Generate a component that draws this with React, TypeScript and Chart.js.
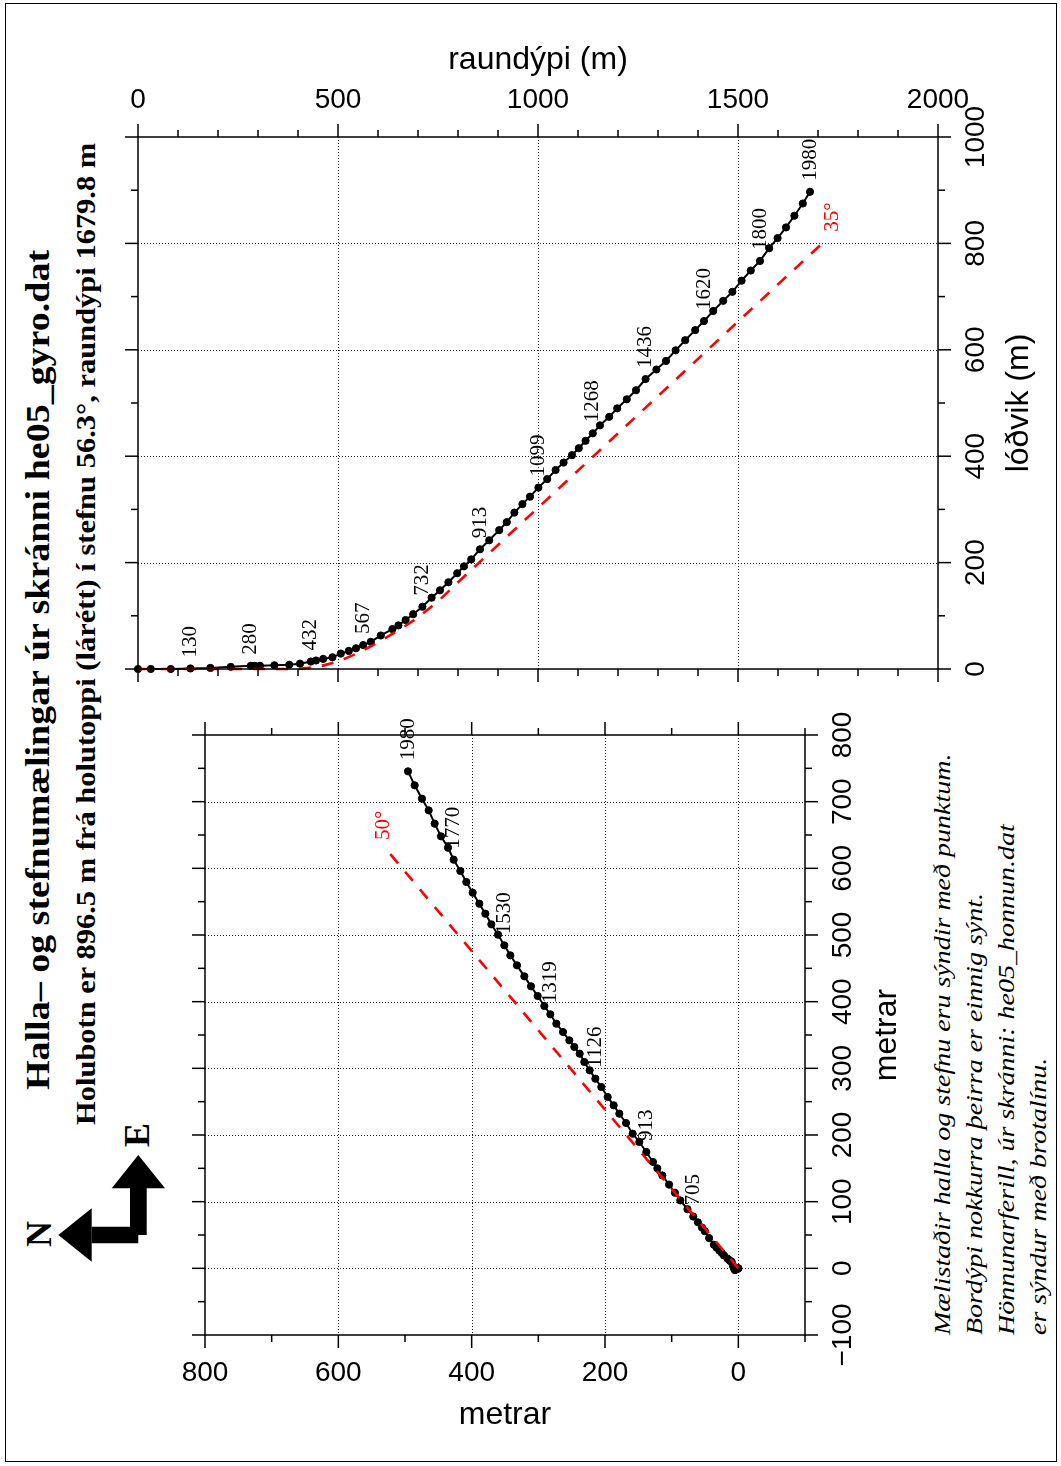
import React, { useEffect, useRef } from "react";
import { Chart, registerables } from "chart.js";
Chart.register(...registerables);

// ---------- DATA ----------
// Measured stations (gyro survey): true vertical depth and horizontal displacement (m)
const tvd = [0, 32, 82, 131, 181, 232, 282, 292, 305, 341, 378, 405, 432, 445, 463, 486, 507, 527, 545, 563,
  582, 607, 636, 651, 669, 688, 711, 734, 755, 776, 798, 815, 833, 855, 878, 903, 922, 941, 961, 980,
  1001, 1023, 1044, 1064, 1085, 1102, 1119, 1137, 1155, 1178, 1198, 1222, 1245, 1269, 1296, 1320, 1344, 1368, 1393, 1415,
  1438, 1463, 1486, 1509, 1532, 1555, 1578, 1599, 1620, 1641, 1662, 1680];
const lodvik = [0, 0, 0, 1, 2, 4, 6, 6, 6, 7, 8, 10, 14, 16, 19, 22, 29, 34, 39, 45,
  51, 63, 75, 82, 92, 103, 117, 134, 148, 163, 180, 193, 206, 225, 242, 261, 276, 294, 310, 324,
  341, 357, 374, 388, 402, 415, 429, 443, 458, 474, 490, 507, 524, 545, 563, 579, 599, 618, 637, 654,
  673, 692, 709, 730, 749, 767, 791, 810, 830, 852, 875, 897];
// Map view of the same stations (m north, m east)
const north = [0, 0, 0.3, 1, 2, 3.5, 5, 5, 5, 6, 7, 8, 10, 11.9, 14.1, 16.3, 21.6, 24.9, 28.5, 32.6,
  36.7, 43.8, 50.2, 54.5, 60.7, 67.6, 76.3, 87, 95.1, 103.9, 114, 121.5, 128, 138, 148.5, 158.5, 168.5, 178.5, 187, 196,
  205.5, 214.5, 223, 231, 238, 246, 253.5, 263, 273, 282, 291, 301, 311, 321, 332, 342, 351, 360.5, 370.5, 379.5,
  388.5, 398.5, 408, 417, 427, 435.5, 446, 455.5, 464.5, 474.5, 485.5, 495.5];
const east = [0, 0, -0.1, -0.5, -1, -1.5, -2.5, -2.5, -2, -1, 1, 4, 10, 10.7, 12.7, 14.7, 19.4, 23.2, 26.6, 31,
  35.4, 45.3, 55.7, 61.2, 69.1, 77.7, 88.7, 101.9, 113.4, 125.6, 139.3, 150, 159.5, 174.5, 189.5, 202, 218, 232, 244.5, 257,
  272, 284.5, 297, 309.5, 322, 332, 342, 354.5, 367, 381, 393.5, 408.5, 423, 438, 454.5, 469.5, 484.5, 500.5, 516, 532,
  547, 563.5, 579.5, 596, 613, 631, 648, 667, 687, 704.5, 724.5, 745.5];

// Measured-depth labels (station index, MD value)
const topLabelIdx = [3, 6, 12, 19, 26, 33, 40, 47, 53, 59, 65, 71];
const topLabelMD = [130, 280, 432, 567, 732, 913, 1099, 1268, 1436, 1620, 1800, 1980];
const mapLabelIdx = [25, 33, 41, 49, 56, 64, 71];
const mapLabelMD = [705, 913, 1126, 1319, 1530, 1770, 1980];

// Planned trajectory (dashed)
const planTvd = [0, 400, 450, 500, 550, 600, 650, 700, 750, 800, 1000, 1200, 1400, 1600, 1715];
const planLodvik = [0, 0, 4, 14, 30, 50, 72, 97, 127, 163, 303, 443, 583, 723, 803];
const planNorth = [0, 526];
const planEast = [0, 626];
const planTopLabel = "35°";
const planMapLabel = "50°";

// Tick labels and grid
const tvdTicks = [0, 500, 1000, 1500, 2000];
const lodvikTicks = [0, 200, 400, 600, 800, 1000];
const tvdGrid = [500, 1000, 1500];
const lodvikGrid = [200, 400, 600, 800];
const northTicks = [800, 600, 400, 200, 0];
const eastTicks = [-100, 0, 100, 200, 300, 400, 500, 600, 700, 800];
const northGrid = [600, 400, 200, 0];
const eastGrid = [0, 100, 200, 300, 400, 500, 600, 700];

const titleText = "Halla– og stefnumælingar úr skránni he05_gyro.dat";
const subtitleText = "Holubotn er 896.5 m frá holutoppi (lárétt) í stefnu 56.3°, raundýpi 1679.8 m";
const notes = [
  "Mælistaðir halla og stefnu eru sýndir með punktum.",
  "Bordýpi nokkurra þeirra er einnig sýnt.",
  "Hönnunarferill, úr skránni: he05_honnun.dat",
  "er sýndur með brotalínu.",
];

// ---------- DRAW HELPERS ----------
const SANS = '"Liberation Sans", Arial, sans-serif';
const SERIF = '"Liberation Serif", "Times New Roman", serif';

function line(ctx: CanvasRenderingContext2D, x1: number, y1: number, x2: number, y2: number) {
  ctx.beginPath();
  ctx.moveTo(x1, y1);
  ctx.lineTo(x2, y2);
  ctx.stroke();
}
function hText(ctx: CanvasRenderingContext2D, t: string, x: number, y: number, font: string) {
  ctx.save();
  ctx.font = font;
  ctx.fillStyle = "#000";
  ctx.textAlign = "center";
  ctx.textBaseline = "middle";
  ctx.fillText(t, x, y);
  ctx.restore();
}
function vText(ctx: CanvasRenderingContext2D, t: string, x: number, y: number, font: string,
  align: CanvasTextAlign, color = "#000") {
  ctx.save();
  ctx.translate(x, y);
  ctx.rotate(-Math.PI / 2);
  ctx.font = font;
  ctx.fillStyle = color;
  ctx.textAlign = align;
  ctx.textBaseline = "middle";
  ctx.fillText(t, 0, 0);
  ctx.restore();
}
function fmt(v: number) {
  return v < 0 ? "\u2212" + Math.abs(v) : String(v);
}
function hTicks(ctx: CanvasRenderingContext2D, sc: any, from: number, to: number, step: number, major: number, yEdge: number, dir: number) {
  for (let v = from; v <= to + 1e-6; v += step) {
    const px = sc.getPixelForValue(v);
    const len = Math.abs(v % major) < 1e-6 ? 13 : 7;
    line(ctx, px, yEdge, px, yEdge + dir * len);
  }
}
function vTicks(ctx: CanvasRenderingContext2D, sc: any, from: number, to: number, step: number, major: number, xEdge: number, dir: number) {
  for (let v = from; v <= to + 1e-6; v += step) {
    const py = sc.getPixelForValue(v);
    const len = Math.abs(v % major) < 1e-6 ? 13 : 7;
    line(ctx, xEdge, py, xEdge + dir * len, py);
  }
}
function dottedGrid(chart: any, xs: number[], ys: number[]) {
  const { ctx, chartArea: a, scales } = chart;
  ctx.save();
  ctx.strokeStyle = "#222";
  ctx.lineWidth = 1;
  ctx.setLineDash([1, 2]);
  for (const v of xs) {
    const px = Math.round(scales.x.getPixelForValue(v)) + 0.5;
    line(ctx, px, a.top, px, a.bottom);
  }
  for (const v of ys) {
    const py = Math.round(scales.y.getPixelForValue(v)) + 0.5;
    line(ctx, a.left, py, a.right, py);
  }
  ctx.restore();
}

const LABEL_FONT = `21px ${SERIF}`;

const topDecor = {
  id: "topDecor",
  beforeDatasetsDraw(chart: any) {
    dottedGrid(chart, tvdGrid, lodvikGrid);
  },
  afterDatasetsDraw(chart: any) {
    const { ctx, chartArea: a, scales } = chart;
    const x = scales.x, y = scales.y;
    ctx.save();
    ctx.strokeStyle = "#000";
    ctx.lineWidth = 1.5;
    ctx.strokeRect(a.left, a.top, a.right - a.left, a.bottom - a.top);
    hTicks(ctx, x, 0, 2000, 100, 500, a.top, -1);
    hTicks(ctx, x, 0, 2000, 100, 500, a.bottom, 1);
    vTicks(ctx, y, 0, 1000, 100, 200, a.left, -1);
    vTicks(ctx, y, 0, 1000, 100, 200, a.right, 1);
    for (const v of tvdTicks) hText(ctx, String(v), x.getPixelForValue(v), a.top - 37, `28px ${SANS}`);
    for (const v of lodvikTicks) vText(ctx, String(v), a.right + 38, y.getPixelForValue(v), `28px ${SANS}`, "center");
    hText(ctx, "raundýpi (m)", (a.left + a.right) / 2, a.top - 77, `32px ${SANS}`);
    vText(ctx, "lóðvik (m)", a.right + 81, (a.top + a.bottom) / 2, `32px ${SANS}`, "center");
    topLabelIdx.forEach((idx, k) => {
      vText(ctx, String(topLabelMD[k]), x.getPixelForValue(tvd[idx]), y.getPixelForValue(lodvik[idx]) - 11,
        LABEL_FONT, "left");
    });
    const n = planTvd.length - 1;
    vText(ctx, planTopLabel, x.getPixelForValue(planTvd[n]) + 8, y.getPixelForValue(planLodvik[n]) - 10,
      LABEL_FONT, "left", "#ff0000");
    ctx.restore();
  },
};

const mapDecor = {
  id: "mapDecor",
  beforeDatasetsDraw(chart: any) {
    dottedGrid(chart, northGrid, eastGrid);
  },
  afterDatasetsDraw(chart: any) {
    const { ctx, chartArea: a, scales } = chart;
    const x = scales.x, y = scales.y;
    ctx.save();
    ctx.strokeStyle = "#000";
    ctx.lineWidth = 1.5;
    ctx.strokeRect(a.left, a.top, a.right - a.left, a.bottom - a.top);
    hTicks(ctx, x, -100, 800, 100, 200, a.top, -1);
    hTicks(ctx, x, -100, 800, 100, 200, a.bottom, 1);
    vTicks(ctx, y, -100, 800, 50, 100, a.left, -1);
    vTicks(ctx, y, -100, 800, 50, 100, a.right, 1);
    for (const v of northTicks) hText(ctx, fmt(v), x.getPixelForValue(v), a.bottom + 38, `28px ${SANS}`);
    for (const v of eastTicks) vText(ctx, fmt(v), a.right + 38, y.getPixelForValue(v), `28px ${SANS}`, "center");
    hText(ctx, "metrar", (a.left + a.right) / 2, a.bottom + 80, `32px ${SANS}`);
    vText(ctx, "metrar", a.right + 82, (a.top + a.bottom) / 2, `32px ${SANS}`, "center");
    mapLabelIdx.forEach((idx, k) => {
      vText(ctx, String(mapLabelMD[k]), x.getPixelForValue(north[idx]), y.getPixelForValue(east[idx]) - 11,
        LABEL_FONT, "left");
    });
    const n = planNorth.length - 1;
    vText(ctx, planMapLabel, x.getPixelForValue(planNorth[n]) - 4, y.getPixelForValue(planEast[n]) - 11,
      LABEL_FONT, "left", "#ff0000");
    ctx.restore();
  },
};

function commonOptions(padding: any, xOpts: any, yOpts: any) {
  return {
    responsive: false,
    animation: false as const,
    devicePixelRatio: 1,
    events: [] as any[],
    layout: { padding },
    plugins: { legend: { display: false }, tooltip: { enabled: false }, title: { display: false } },
    scales: {
      x: { type: "linear", display: false, ...xOpts },
      y: { type: "linear", display: false, ...yOpts },
    },
  };
}

function lineSets(mx: number[], my: number[], px: number[], py: number[]) {
  return [
    {
      data: px.map((v, i) => ({ x: v, y: py[i] })),
      showLine: true, borderColor: "#ff0000", borderWidth: 2.6, borderDash: [12, 11],
      pointRadius: 0, tension: 0, clip: false, order: 1,
    },
    {
      data: mx.map((v, i) => ({ x: v, y: my[i] })),
      showLine: true, borderColor: "#000", borderWidth: 2, tension: 0,
      pointRadius: 3.6, pointBackgroundColor: "#000", pointBorderColor: "#000", pointBorderWidth: 1,
      clip: false, order: 2,
    },
  ];
}

export default function App() {
  const topRef = useRef<HTMLCanvasElement>(null);
  const mapRef = useRef<HTMLCanvasElement>(null);

  useEffect(() => {
    const top = new Chart(topRef.current as HTMLCanvasElement, {
      type: "scatter",
      data: { datasets: lineSets(tvd, lodvik, planTvd, planLodvik) as any },
      options: commonOptions({ left: 138, top: 137, right: 123, bottom: 31 },
        { min: 0, max: 2000 }, { min: 0, max: 1000 }) as any,
      plugins: [topDecor],
    });
    const map = new Chart(mapRef.current as HTMLCanvasElement, {
      type: "scatter",
      data: { datasets: lineSets(north, east, planNorth, planEast) as any },
      options: commonOptions({ left: 205, top: 35, right: 256, bottom: 131 },
        { min: -100, max: 800, reverse: true }, { min: -100, max: 800 }) as any,
      plugins: [mapDecor],
    });
    return () => {
      top.destroy();
      map.destroy();
    };
  }, []);

  const noteBase = [950, 982, 1014, 1046];

  return (
    <div style={{ position: "fixed", left: 0, top: 0, width: 1061, height: 1466, background: "#fff", overflow: "hidden" }}>
      <svg width={1061} height={1466} style={{ position: "absolute", left: 0, top: 0 }}>
        <rect x={5.5} y={3.5} width={1051} height={1458} fill="none" stroke="#000" strokeWidth={1} />
        <text transform="translate(49,1090) scale(0.88,1) rotate(-90)" fontFamily={SERIF} fontWeight="bold" fontSize={38} fill="#000">
          {titleText}
        </text>
        <text transform="translate(95,1125) scale(0.88,1) rotate(-90)" fontFamily={SERIF} fontWeight="bold" fontSize={30.5} fill="#000">
          {subtitleText}
        </text>
        {notes.map((t, i) => (
          <text key={i} transform={`translate(${noteBase[i]},1335) scale(0.85,1) rotate(-90)`} fontFamily={SERIF}
            fontStyle="italic" fontSize={28} fill="#000">
            {t}
          </text>
        ))}
        <polygon points="130,1188 146.7,1188 146.7,1235 138.3,1235 138.3,1243.3 91.7,1243.3 91.7,1226.7 130,1226.7" fill="#000" />
        <polygon points="138.3,1155 165,1188.3 111.7,1188.3" fill="#000" />
        <polygon points="58.3,1235 91.7,1208.3 91.7,1261.7" fill="#000" />
        <text transform="translate(39,1234) rotate(-90)" fontFamily={SERIF} fontWeight="bold" fontSize={36}
          textAnchor="middle" dominantBaseline="central" fill="#000">N</text>
        <text transform="translate(137,1135) rotate(-90)" fontFamily={SERIF} fontWeight="bold" fontSize={36}
          textAnchor="middle" dominantBaseline="central" fill="#000">E</text>
      </svg>
      <canvas ref={topRef} width={1061} height={700} style={{ position: "absolute", left: 0, top: 0 }} />
      <canvas ref={mapRef} width={1061} height={766} style={{ position: "absolute", left: 0, top: 700 }} />
    </div>
  );
}
